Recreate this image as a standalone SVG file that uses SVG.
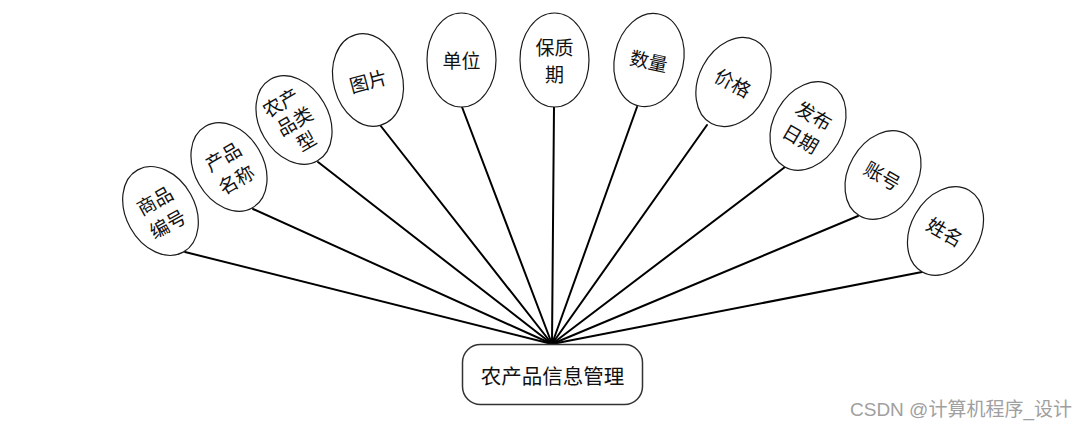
<svg xmlns="http://www.w3.org/2000/svg" width="1088" height="426" viewBox="0 0 1088 426">
<style>
.bg{fill:#ffffff}
.attr ellipse{fill:#ffffff;stroke:#1a1a1a;stroke-width:1.2}
.lbl{font-family:"Noto Sans CJK SC","Liberation Sans",sans-serif;font-size:19px;fill:#111;text-anchor:middle;dominant-baseline:central}
.conn line{stroke:#000;stroke-width:2;stroke-linecap:round}
.ent rect{fill:#ffffff;stroke:#333;stroke-width:1.5}
.ent text{font-family:"Noto Sans CJK SC","Liberation Sans",sans-serif;font-size:20.5px;fill:#111;text-anchor:middle;dominant-baseline:central}
.wm{font-family:"Liberation Sans","Noto Sans CJK SC",sans-serif;font-size:19px;fill:#a0a0a0}
</style>
<rect class="bg" x="0" y="0" width="1088" height="426"/>
<g id="connectors" class="conn">
<line x1="185" y1="252" x2="552" y2="344"/>
<line x1="253" y1="209" x2="552" y2="344"/>
<line x1="318" y1="162" x2="552" y2="344"/>
<line x1="380" y1="125" x2="552" y2="344"/>
<line x1="462" y1="107" x2="552" y2="344"/>
<line x1="554" y1="107" x2="552" y2="344"/>
<line x1="637" y1="107" x2="552" y2="344"/>
<line x1="707" y1="125" x2="552" y2="344"/>
<line x1="785" y1="167" x2="552" y2="344"/>
<line x1="858" y1="216" x2="552" y2="344"/>
<line x1="922" y1="272" x2="552" y2="344"/>
</g>
<g id="n-shangpinbianhao" class="attr" transform="translate(160.5,211) rotate(-29)">
<ellipse cx="0" cy="0" rx="34.5" ry="47"/>
<text class="lbl" x="0" y="-13">商品</text>
<text class="lbl" x="0" y="13.5">编号</text>
</g>
<g id="n-chanpinmingcheng" class="attr" transform="translate(229,167) rotate(-30)">
<ellipse cx="0" cy="0" rx="34.5" ry="47"/>
<text class="lbl" x="0" y="-13">产品</text>
<text class="lbl" x="0" y="13.5">名称</text>
</g>
<g id="n-nongchanpinleixing" class="attr" transform="translate(294,120) rotate(-30)">
<ellipse cx="0" cy="0" rx="34.5" ry="47"/>
<text class="lbl" x="-3" y="-23">农产</text>
<text class="lbl" x="0" y="0">品类</text>
<text class="lbl" x="0" y="23">型</text>
</g>
<g id="n-tupian" class="attr" transform="translate(368,80) rotate(-15)">
<ellipse cx="0" cy="0" rx="34.5" ry="47"/>
<text class="lbl" x="0" y="0">图片</text>
</g>
<g id="n-danwei" class="attr" transform="translate(461.5,60)">
<ellipse cx="0" cy="0" rx="34.5" ry="47"/>
<text class="lbl" x="0" y="-1">单位</text>
</g>
<g id="n-baozhiqi" class="attr" transform="translate(554.5,60)">
<ellipse cx="0" cy="0" rx="34.5" ry="47"/>
<text class="lbl" x="0" y="-13.5">保质</text>
<text class="lbl" x="0" y="13.5">期</text>
</g>
<g id="n-shuliang" class="attr" transform="translate(649,60) rotate(12)">
<ellipse cx="0" cy="0" rx="34.5" ry="47"/>
<text class="lbl" x="0" y="0">数量</text>
</g>
<g id="n-jiage" class="attr" transform="translate(733.5,82) rotate(28)">
<ellipse cx="0" cy="0" rx="34.5" ry="47"/>
<text class="lbl" x="0" y="0">价格</text>
</g>
<g id="n-fabuRiqi" class="attr" transform="translate(808,126) rotate(30)">
<ellipse cx="0" cy="0" rx="34.5" ry="47"/>
<text class="lbl" x="0" y="-13">发布</text>
<text class="lbl" x="0" y="13.5">日期</text>
</g>
<g id="n-zhanghao" class="attr" transform="translate(883,175) rotate(30)">
<ellipse cx="0" cy="0" rx="34.5" ry="47"/>
<text class="lbl" x="0" y="0">账号</text>
</g>
<g id="n-xingming" class="attr" transform="translate(945.5,231) rotate(30)">
<ellipse cx="0" cy="0" rx="34.5" ry="47"/>
<text class="lbl" x="0" y="0">姓名</text>
</g>
<g id="n-entity" class="ent">
<rect x="462.5" y="344.5" width="180" height="60" rx="18" ry="18"/>
<text x="552.5" y="375">农产品信息管理</text>
</g>
<text class="wm" x="850" y="416">CSDN @计算机程序_设计</text>
</svg>
